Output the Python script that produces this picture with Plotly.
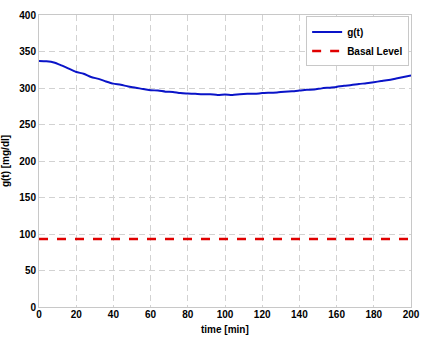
import plotly.graph_objects as go

time_min = [0, 4, 8, 12, 16, 20, 24, 28, 32, 36, 40, 44, 48, 52, 56, 60, 64, 68, 72, 76,
            80, 84, 88, 92, 96, 100, 104, 108, 112, 116, 120, 124, 128, 132, 136, 140,
            144, 148, 152, 156, 160, 164, 168, 172, 176, 180, 184, 188, 192, 196, 200]
g_values = [337, 336.5, 335, 331, 326.5, 322, 319.5, 315, 312.5, 309, 306, 304.5, 302, 300.5, 298.5,
            297, 296.5, 295, 294.5, 293, 292.5, 292, 291.5, 291.5, 290.5, 291, 290.5, 291.5, 292, 292,
            293, 293.5, 294, 295, 295.5, 296.5, 297.5, 298, 299.5, 300.5, 301.5, 303, 304, 305.5,
            306.5, 308, 309.5, 311, 313, 315, 317]
basal_level = 93
x_ticks = [0, 20, 40, 60, 80, 100, 120, 140, 160, 180, 200]
y_ticks = [0, 50, 100, 150, 200, 250, 300, 350, 400]

fig = go.Figure()
fig.add_trace(go.Scatter(x=time_min, y=g_values, mode="lines", name="<b>g(t)</b>",
                         line=dict(color="#0a14c8", width=2, shape="spline", smoothing=0.6)))
fig.add_trace(go.Scatter(x=[time_min[0], time_min[-1]], y=[basal_level, basal_level],
                         mode="lines", name="<b>Basal Level</b>",
                         line=dict(color="#e00000", width=2.5, dash="dash")))

axis_common = dict(showline=True, linecolor="#c8c8c8", linewidth=1, mirror=True,
                   showgrid=True, gridcolor="#d2d2d2", griddash="6px,4px", gridwidth=1,
                   zeroline=False, ticks="", automargin=False,
                   tickfont=dict(family="Arial", size=10, color="black"))

fig.update_layout(
    width=425, height=339,
    margin=dict(l=39, r=14, t=15, b=32),
    paper_bgcolor="white", plot_bgcolor="white",
    font=dict(family="Arial", color="black"),
    xaxis=dict(range=[0, 200], tickvals=x_ticks, ticktext=[f"<b>{v}</b>" for v in x_ticks],
               ticklabelstandoff=-2, **axis_common),
    yaxis=dict(range=[0, 400], tickvals=y_ticks, ticktext=[f"<b>{v}</b>" for v in y_ticks],
               title=dict(text="<b>g(t) [mg/dl]</b>", font=dict(size=10)), **axis_common),
    legend=dict(x=0.995, y=0.995, xanchor="right", yanchor="top", bgcolor="white",
                bordercolor="#c8c8c8", borderwidth=1, font=dict(size=10, family="Arial"),
                itemwidth=30, tracegroupgap=0),
    showlegend=True,
    annotations=[dict(text="<b>time [min]</b>", xref="paper", yref="paper", x=0.5, y=-0.078,
                      xanchor="center", yanchor="middle", showarrow=False,
                      font=dict(size=10, family="Arial", color="black"))],
)

fig.write_html("out.html", config={"displayModeBar": False},
               post_script="document.body.style.margin='0';document.body.style.overflow='hidden';")
